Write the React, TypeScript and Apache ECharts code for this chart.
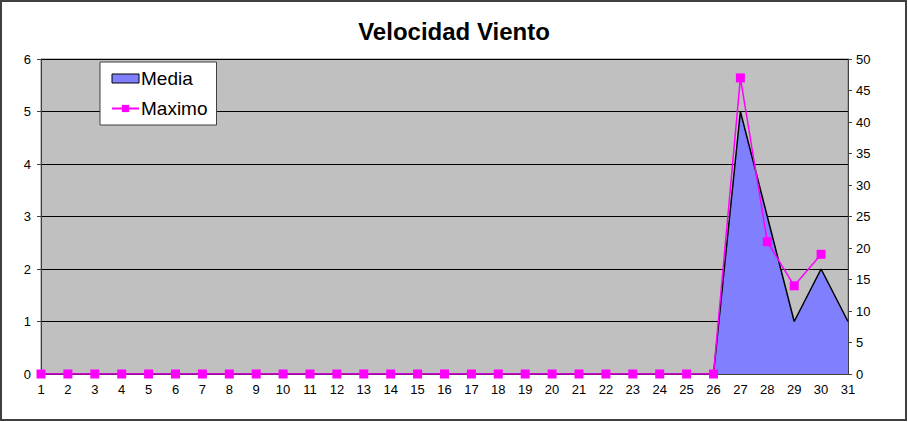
import React, { useEffect, useRef } from "react";
import * as echarts from "echarts";

const days: string[] = Array.from({ length: 31 }, (_, i) => String(i + 1));
const media: number[] = [0,0,0,0,0,0,0,0,0,0,0,0,0,0,0,0,0,0,0,0,0,0,0,0,0,0,5,3,1,2,1];
const maximo: (number | string)[] = [0,0,0,0,0,0,0,0,0,0,0,0,0,0,0,0,0,0,0,0,0,0,0,0,0,0,47,21,14,19,"-"];
const title = "Velocidad Viento";

export default function App() {
  const ref = useRef<HTMLDivElement>(null);
  useEffect(() => {
    document.body.style.margin = "0";
    const chart = echarts.init(ref.current!, null, { renderer: "svg" });
    const font = "'Liberation Sans', Arial, sans-serif";
    chart.setOption({
      animation: false,
      backgroundColor: "#ffffff",
      textStyle: { fontFamily: font },
      title: {
        text: title,
        left: "center",
        top: 14,
        textStyle: { fontFamily: font, fontSize: 24, fontWeight: "bold", color: "#000" },
      },
      graphic: [
        {
          type: "rect",
          shape: { x: 1, y: 1, width: 905, height: 419 },
          style: { fill: "none", stroke: "#404040", lineWidth: 2 },
          z: -1,
        },
      ],
      legend: {
        orient: "vertical",
        left: 100,
        top: 62,
        backgroundColor: "#ffffff",
        borderColor: "#404040",
        borderWidth: 1,
        borderRadius: 0,
        padding: [7, 9, 7, 11],
        itemGap: 11,
        itemWidth: 27,
        itemHeight: 9,
        textStyle: { fontFamily: font, fontSize: 19, lineHeight: 19, color: "#000", padding: [0, 0, 0, -3] },
        data: [
          { name: "Media", icon: "rect", itemStyle: { color: "#8080FF", borderColor: "#000", borderWidth: 1 } },
          { name: "Maximo" },
        ],
      },
      grid: {
        left: 41,
        right: 60,
        top: 59,
        bottom: 48,
        show: true,
        backgroundColor: "#C0C0C0",
        borderColor: "#808080",
        borderWidth: 1,
      },
      xAxis: {
        type: "category",
        data: days,
        boundaryGap: false,
        axisLine: { lineStyle: { color: "#404040" } },
        axisTick: { show: false },
        axisLabel: { color: "#000", fontSize: 13, margin: 9, interval: 0 },
      },
      yAxis: [
        {
          type: "value",
          min: 0,
          max: 6,
          interval: 1,
          axisLine: { show: true, lineStyle: { color: "#404040" } },
          axisTick: { show: true, length: 4, lineStyle: { color: "#404040" } },
          axisLabel: { color: "#000", fontSize: 13, margin: 10 },
          splitLine: { show: true, lineStyle: { color: "#000", width: 1 } },
        },
        {
          type: "value",
          min: 0,
          max: 50,
          interval: 5,
          position: "right",
          axisLine: { show: true, lineStyle: { color: "#404040" } },
          axisTick: { show: true, length: 4, lineStyle: { color: "#404040" } },
          axisLabel: { color: "#000", fontSize: 13, margin: 8 },
          splitLine: { show: false },
        },
      ],
      series: [
        {
          name: "Media",
          type: "line",
          data: media,
          yAxisIndex: 0,
          symbol: "none",
          lineStyle: { color: "#000", width: 1.5 },
          itemStyle: { color: "#8080FF" },
          areaStyle: { color: "#8080FF", opacity: 1 },
          z: 2,
        },
        {
          name: "Maximo",
          type: "line",
          data: maximo,
          yAxisIndex: 1,
          symbol: "rect",
          symbolSize: 9,
          lineStyle: { color: "#FF00FF", width: 1.5 },
          itemStyle: { color: "#FF00FF" },
          z: 3,
        },
      ],
    });
    return () => chart.dispose();
  }, []);
  return <div ref={ref} style={{ width: 908, height: 422 }} />;
}
